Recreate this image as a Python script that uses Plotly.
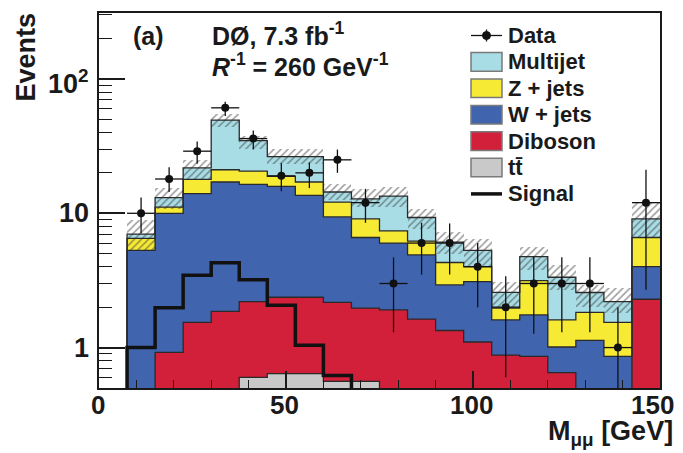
import numpy as np
import plotly.graph_objects as go

# 7.5 GeV bins from 0 to 150
bin_edges = np.arange(0, 150.1, 7.5)
bin_width = 7.5
bin_centers = (bin_edges[:-1] + bin_edges[1:]) / 2

# background components (events per bin), stacked bottom -> top
ttbar = [0, 0, 0, 0, 0, 0.60, 0.64, 0.64, 0.56, 0.56, 0, 0, 0, 0, 0, 0, 0, 0, 0, 0]
diboson = [0, 0, 0.92, 1.54, 1.86, 1.60, 1.73, 1.73, 1.61, 1.41, 1.91, 1.63, 1.34, 1.10, 0.88, 0.86, 0.65, 0, 0, 2.29]
wjets = [0, 5.3, 9.08, 12.46, 15.24, 14.2, 13.48, 11.23, 7.23, 4.63, 4.09, 3.27, 1.59, 2.0, 0.73, 0.89, 0.36, 1.13, 0.86, 1.71]
zjets = [0, 1.2, 1.1, 3.9, 4.0, 4.2, 2.95, 3.5, 2.7, 2.5, 1.4, 1.3, 1.37, 0.9, 0.36, 1.4, 0.6, 0.7, 0.68, 2.6]
multijet = [0, 0.5, 2.0, 3.9, 28.3, 14.1, 7.6, 9.3, 2.3, 3.7, 6.0, 3.1, 1.8, 1.3, 0.61, 1.6, 1.73, 0.74, 0.66, 2.5]

# systematic band on total background
band_hi = [None, 8.9, 15.5, 25.1, 54.7, 37.8, 30.1, 30.1, 16.6, 15.2, 15.7, 10.8, 7.3, 6.4, 3.1, 5.6, 4.1, 2.93, 2.8, 11.9]
band_lo = [None, 5.2, 10.8, 18.1, 43.6, 30.1, 23.4, 23.4, 12.5, 11.1, 11.1, 7.7, 5.0, 4.0, 2.02, 3.8, 2.7, 2.02, 1.8, 6.7]

# signal R^-1 = 260 GeV
signal = [0, 1.0, 1.98, 3.45, 4.28, 3.2, 2.07, 1.04, 0.62, 0.3, 0, 0, 0, 0, 0, 0, 0, 0, 0, 0]

# data
data_counts = [None, 10, 18, 29, 61, 36, 19, 20, 25, 12, 3, 6, 6, 4, 2, 3, 3, 3, 1, 12]
data_err_up = [None, 3.1, 4.0, 5.2, 6.8, 5.4, 4.6, 3.9, 4.8, 3.2, 1.7, 2.5, 2.4, 2.0, 1.4, 1.75, 1.7, 1.7, 1.0, 9.1]
data_err_dn = [None, 2.9, 3.6, 5.6, 8.0, 6.2, 4.4, 4.6, 5.0, 3.5, 1.7, 2.5, 2.5, 2.0, 1.4, 1.73, 1.7, 1.7, 0.99, 9.3]

# axis ticks
x_ticks = [0, 50, 100, 150]
y_ticks = [1, 10, 100]
y_ticktext = ["1", "10", "10<sup>2</sup>"]

names = ["tt\u0304", "Diboson", "W + jets", "Z + jets", "Multijet"]
comps = [ttbar, diboson, wjets, zjets, multijet]
colors = ["#c9c9c9", "#d21f3a", "#4064ae", "#f6ea35", "#a9dde6"]

FONT = "Liberation Sans"
FLOOR = 0.1  # below the axis, so step outlines drop out of view
PAGE_OFF = 8  # default body margin of the html page
L, R, T, B = 99, 660, 13, 388  # plot area in page pixels
W, H = 683 - PAGE_OFF, 453 - PAGE_OFF


def px(x, y):
    return (x - L) / (R - L), (B - y) / (B - T)


def steps(vals):
    v = [max(a, FLOOR) for a in vals]
    return list(bin_edges), v + [v[-1]]


cum = np.cumsum(np.array(comps), axis=0)

fig = go.Figure()

# filled stack, drawn from the top layer down (overlay)
for i in reversed(range(len(comps))):
    fig.add_trace(go.Bar(
        x=bin_centers, y=cum[i], width=bin_width,
        marker=dict(color=colors[i], line_width=0),
        name=names[i], showlegend=False, hoverinfo="skip"))

# hatched uncertainty band
hi = np.array([np.nan if v is None else v for v in band_hi])
lo = np.array([np.nan if v is None else v for v in band_lo])
fig.add_trace(go.Bar(
    x=bin_centers, y=hi - lo, base=lo, width=bin_width,
    marker=dict(color="rgba(0,0,0,0)", line_width=0,
                pattern=dict(shape="/", fgcolor="#3a3a3a", size=5, solidity=0.32, fillmode="overlay")),
    showlegend=False, hoverinfo="skip"))

# outlines of each stack layer
for i in range(len(comps)):
    xs, ys = steps(list(cum[i]))
    fig.add_trace(go.Scatter(x=xs, y=ys, mode="lines",
                             line=dict(color="#2a2a2a", width=1.3, shape="hv"),
                             showlegend=False, hoverinfo="skip"))

# signal
xs, ys = steps(signal)
fig.add_trace(go.Scatter(x=xs, y=ys, mode="lines",
                         line=dict(color="#111111", width=3.5, shape="hv"),
                         showlegend=False, name="Signal"))

# data
fig.add_trace(go.Scatter(
    x=bin_centers, y=data_counts, mode="markers",
    marker=dict(color="#111111", size=8),
    error_y=dict(type="data", symmetric=False, array=data_err_up, arrayminus=data_err_dn,
                 color="#111111", thickness=1.3, width=0),
    error_x=dict(type="constant", value=bin_width / 2, color="#111111", thickness=1.3, width=0),
    showlegend=False, name="Data"))

fig.update_layout(
    width=W, height=H,
    margin=dict(l=L - PAGE_OFF, r=PAGE_OFF + W - R, t=T - PAGE_OFF, b=PAGE_OFF + H - B),
    paper_bgcolor="white", plot_bgcolor="white",
    barmode="overlay", bargap=0,
    font=dict(family=FONT, color="#1a1a1a"),
    xaxis=dict(range=[0, 150], tickvals=x_ticks, ticks="inside", ticklen=17,
               tickwidth=1.5, tickcolor="#1a1a1a", automargin=False, showticklabels=False,
               minor=dict(dtick=10, ticks="inside", ticklen=8, tickwidth=1.2, tickcolor="#1a1a1a"),
               showline=True, linewidth=2, linecolor="#1a1a1a", mirror=True,
               showgrid=False, zeroline=False),
    yaxis=dict(type="log", range=[np.log10(0.5), np.log10(310)],
               tickvals=y_ticks, ticks="inside", ticklen=26, tickwidth=1.5, tickcolor="#1a1a1a",
               automargin=False, showticklabels=False,
               minor=dict(tickmode="array",
                          tickvals=[0.6, 0.7, 0.8, 0.9, 2, 3, 4, 5, 6, 7, 8, 9,
                                    20, 30, 40, 50, 60, 70, 80, 90, 200, 300],
                          ticks="inside", ticklen=13, tickwidth=1.2, tickcolor="#1a1a1a"),
               showline=True, linewidth=2, linecolor="#1a1a1a", mirror=True,
               showgrid=False, zeroline=False),
)

# tick labels, placed by hand so they sit like the original
for v in x_ticks:
    fig.add_annotation(x=v, y=px(0, 405)[1], xref="x", yref="paper", xanchor="center",
                       yanchor="middle", text=str(v), showarrow=False,
                       xshift=-8 if v == x_ticks[-1] else -1.5,  # last one kept inside the page
                       font=dict(size=26, weight="bold", family=FONT))
for v, txt in zip(y_ticks, y_ticktext):
    fig.add_annotation(x=px(91, 0)[0], y=np.log10(v), xref="paper", yref="y", xanchor="right",
                       yanchor="middle", text=txt, showarrow=False,
                       yshift=-3 if "sup" in txt else 0,
                       font=dict(size=27, weight="bold", family=FONT))

# axis titles
x0, y0 = px(675, 433)
fig.add_annotation(x=x0, y=y0, xref="paper", yref="paper", xanchor="right", yanchor="middle",
                   text="M<sub>\u03bc\u03bc</sub> [GeV]", showarrow=False,
                   font=dict(size=27, weight="bold", family=FONT))
x0, y0 = px(26, 11)
fig.add_annotation(x=x0, y=y0, xref="paper", yref="paper", xanchor="center", yanchor="top",
                   text="Events", textangle=-90, showarrow=False,
                   font=dict(size=27, weight="bold", family=FONT))

# labels in the plot
x0, y0 = px(148, 36)
fig.add_annotation(x=x0, y=y0, xref="paper", yref="paper", xanchor="center", yanchor="middle",
                   text="(a)", showarrow=False, font=dict(size=25, weight="bold", family=FONT))
x0, y0 = px(210, 34)
fig.add_annotation(x=x0, y=y0, xref="paper", yref="paper", xanchor="left", yanchor="middle",
                   text="D\u00d8, 7.3 fb<sup>-1</sup>", showarrow=False,
                   font=dict(size=25, weight="bold", family=FONT))
x0, y0 = px(210, 65)
fig.add_annotation(x=x0, y=y0, xref="paper", yref="paper", xanchor="left", yanchor="middle",
                   text="<i>R</i><sup>-1</sup> = 260 GeV<sup>-1</sup>", showarrow=False,
                   font=dict(size=25, weight="bold", family=FONT))

# hand-drawn legend
leg_x0, leg_x1, leg_text = 471, 502, 506
rows = ["Data", "Multijet", "Z + jets", "W + jets", "Diboson", "tt\u0304", "Signal"]
row_colors = {"Multijet": colors[4], "Z + jets": colors[3], "W + jets": colors[2],
              "Diboson": colors[1], "tt\u0304": colors[0]}
for k, label in enumerate(rows):
    yc = 35.5 + 26.4 * k
    if label == "Data":
        a = px(leg_x0, yc); b = px(leg_x1, yc)
        fig.add_shape(type="line", xref="paper", yref="paper", x0=a[0], y0=a[1], x1=b[0], y1=b[1],
                      line=dict(color="#111111", width=1.3))
        a = px((leg_x0 + leg_x1) / 2, yc - 6); b = px((leg_x0 + leg_x1) / 2, yc + 6)
        fig.add_shape(type="line", xref="paper", yref="paper", x0=a[0], y0=a[1], x1=b[0], y1=b[1],
                      line=dict(color="#111111", width=1.3))
        a = px((leg_x0 + leg_x1) / 2 - 4, yc - 4); b = px((leg_x0 + leg_x1) / 2 + 4, yc + 4)
        fig.add_shape(type="circle", xref="paper", yref="paper", x0=a[0], y0=a[1], x1=b[0], y1=b[1],
                      fillcolor="#111111", line=dict(color="#111111", width=1))
    elif label == "Signal":
        a = px(leg_x0, yc); b = px(leg_x1, yc)
        fig.add_shape(type="line", xref="paper", yref="paper", x0=a[0], y0=a[1], x1=b[0], y1=b[1],
                      line=dict(color="#111111", width=3.5))
    else:
        a = px(leg_x0, yc - 9.3); b = px(leg_x1, yc + 9.3)
        fig.add_shape(type="rect", xref="paper", yref="paper", x0=a[0], y0=a[1], x1=b[0], y1=b[1],
                      fillcolor=row_colors[label], line=dict(color="#7a7a7a", width=1.5))
    t = px(leg_text, yc)
    fig.add_annotation(x=t[0], y=t[1], xref="paper", yref="paper", xanchor="left", yanchor="middle",
                       text=label, showarrow=False, font=dict(size=22, weight="bold", family=FONT))

fig.write_html("out.html")
